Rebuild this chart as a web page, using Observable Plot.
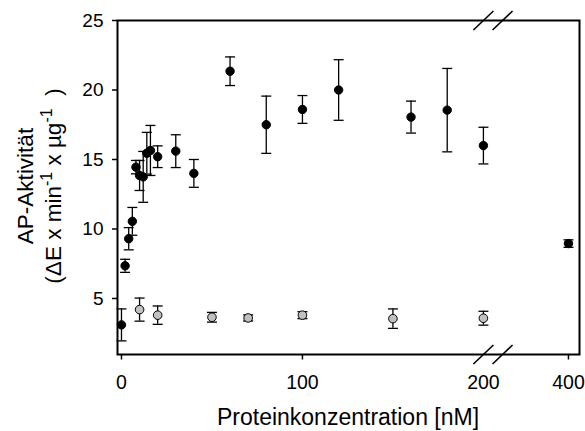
<!DOCTYPE html>
<html>
<head>
<meta charset="utf-8">
<script src="https://cdn.jsdelivr.net/npm/d3@7"></script>
<script src="https://cdn.jsdelivr.net/npm/@observablehq/plot@0.6"></script>
<style>
  html, body { margin: 0; padding: 0; background: white; }
  #chart { width: 585px; height: 431px; }
</style>
</head>
<body>
<div id="chart"></div>
<script>
// Active protein (black)
const concActive = [0, 2, 4, 6, 8, 10, 12, 14, 16, 20, 30, 40, 60, 80, 100, 120, 160, 180, 200, 400];
const activityActive = [3.1, 7.35, 9.3, 10.55, 14.45, 13.85, 13.75, 15.45, 15.65, 15.2, 15.6, 14.0, 21.35, 17.5, 18.6, 20.0, 18.05, 18.55, 16.0, 8.95];
const sdActive = [1.15, 0.47, 0.8, 1.0, 0.48, 1.08, 1.83, 1.5, 1.8, 0.78, 1.18, 1.0, 1.03, 2.06, 1.0, 2.18, 1.15, 3.0, 1.32, 0.27];

// Control (grey)
const concControl = [10, 20, 50, 70, 100, 150, 200];
const activityControl = [4.2, 3.8, 3.65, 3.6, 3.8, 3.55, 3.58];
const sdControl = [0.83, 0.66, 0.35, 0.22, 0.25, 0.7, 0.5];

const yTicks = [5, 10, 15, 20, 25];
const xTicks = [0, 100, 400];
const xTickLabels = [0, 100, 200, 400];
const axisBreak = [200, 245];

// broken x axis: 0–200 linear, then compressed segment up to 400
const breakAt = 200, compress = 0.235;
const brk = v => v <= breakAt ? v : breakAt + (v - breakAt) * compress;

const active = concActive.map((x, i) => ({x, y: activityActive[i], sd: sdActive[i]}));
const control = concControl.map((x, i) => ({x, y: activityControl[i], sd: sdControl[i]}));

const cap = {draw(ctx, size) { const r = Math.sqrt(size / Math.PI); ctx.moveTo(-r, 0); ctx.lineTo(r, 0); }};
const vtick = {draw(ctx, size) { const r = Math.sqrt(size / Math.PI); ctx.moveTo(0, 0); ctx.lineTo(0, r); }};
const slash = {draw(ctx, size) { const r = Math.sqrt(size / Math.PI); ctx.moveTo(-r, 0.95 * r); ctx.lineTo(r, -0.95 * r); }};

const errMarks = (data) => [
  Plot.ruleX(data, {x: "x", y1: d => d.y - d.sd, y2: d => d.y + d.sd, stroke: "black", strokeWidth: 1.3}),
  Plot.dot(data, {x: "x", y: d => d.y - d.sd, symbol: cap, r: 5, stroke: "black", strokeWidth: 1.3, fill: "none"}),
  Plot.dot(data, {x: "x", y: d => d.y + d.sd, symbol: cap, r: 5, stroke: "black", strokeWidth: 1.3, fill: "none"})
];

const chart = Plot.plot({
  width: 585,
  height: 431,
  marginLeft: 117,
  marginRight: 6,
  marginTop: 20,
  marginBottom: 77,
  style: {fontFamily: "'Liberation Sans', Arial, sans-serif", fontSize: "19px", color: "black", background: "white", overflow: "visible"},
  x: {type: "linear", transform: brk, domain: [-2.2, 253.1], axis: null},
  y: {domain: [0.97, 25], axis: null},
  marks: [
    Plot.axisY({ticks: yTicks, tickSize: 5, tickPadding: 9, label: null, tickFormat: d => d, strokeWidth: 1.5}),
    Plot.dot(xTicks, {x: d => d, frameAnchor: "bottom", symbol: vtick, r: 5, stroke: "black", strokeWidth: 1.5}),
    Plot.text(xTickLabels, {x: d => d, text: d => String(d), frameAnchor: "bottom", lineAnchor: "top", dy: 21, fontSize: 19.5, fill: "black"}),
    ...errMarks(control),
    ...errMarks(active),
    Plot.dot(control, {x: "x", y: "y", r: 4.3, fill: "#c0c0c0", stroke: "black", strokeWidth: 1}),
    Plot.dot(active, {x: "x", y: "y", r: 4.2, fill: "black", stroke: "black", strokeWidth: 1}),
    Plot.frame({stroke: "black", strokeWidth: 2}),
    Plot.dot(axisBreak, {x: d => d, frameAnchor: "top", symbol: slash, r: 10, stroke: "black", strokeWidth: 1.6, fill: "none"}),
    Plot.dot(axisBreak, {x: d => d, frameAnchor: "bottom", symbol: slash, r: 10, stroke: "black", strokeWidth: 1.6, fill: "none"})
  ]
});

document.getElementById("chart").appendChild(chart);

const svg = d3.select(chart);
const font = "'Liberation Sans', Arial, sans-serif";

svg.append("text")
  .attr("x", 348).attr("y", 425)
  .attr("text-anchor", "middle")
  .attr("font-family", font).attr("font-size", 23).attr("fill", "black")
  .text("Proteinkonzentration [nM]");

svg.append("text")
  .attr("transform", "translate(33,186) rotate(-90)")
  .attr("text-anchor", "middle")
  .attr("font-family", font).attr("font-size", 22.5).attr("fill", "black")
  .text("AP-Aktivität");

const t2 = svg.append("text")
  .attr("transform", "translate(61,186) rotate(-90)")
  .attr("text-anchor", "middle")
  .attr("font-family", font).attr("font-size", 22.5).attr("fill", "black");
t2.append("tspan").text("(ΔE x min");
t2.append("tspan").attr("dy", -9.5).attr("font-size", 16).text("-1");
t2.append("tspan").attr("dy", 9.5).text(" x µg");
t2.append("tspan").attr("dy", -9.5).attr("font-size", 16).text("-1");
t2.append("tspan").attr("dy", 9.5).text("  )");
</script>
</body>
</html>
